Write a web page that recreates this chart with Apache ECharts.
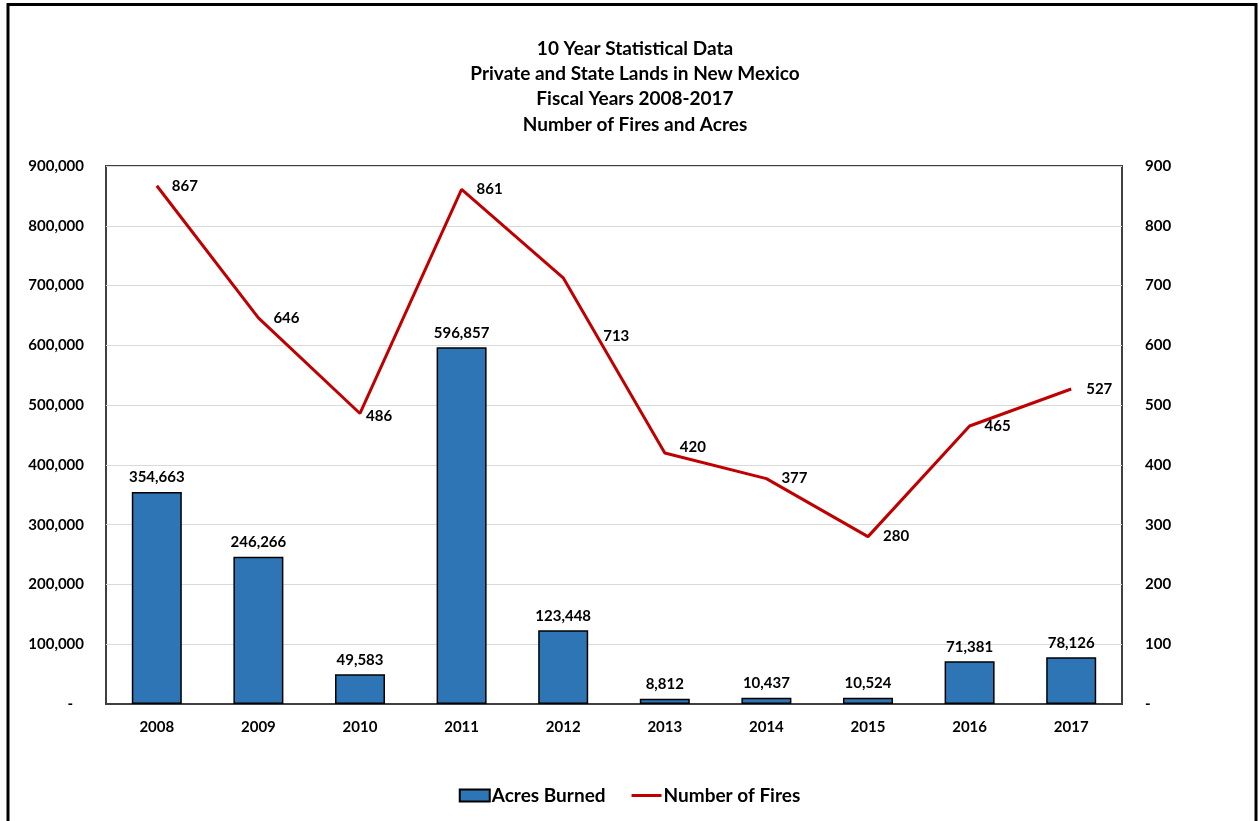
<!DOCTYPE html>
<html>
	<head>
		<meta charset="utf-8">
		<title>10 Year Statistical Data</title>
		<script src="https://cdn.jsdelivr.net/npm/echarts@6/dist/echarts.min.js"></script>
		<style>
			html, body { margin: 0; padding: 0; background: #fff; }
			#chart { width: 1259px; height: 821px; }
		</style>
	</head>
	<body>
		<div id="chart"></div>
		<script>
			// 数据
			var years = ['2008', '2009', '2010', '2011', '2012', '2013', '2014', '2015', '2016', '2017'];
			var acresBurned = [354663, 246266, 49583, 596857, 123448, 8812, 10437, 10524, 71381, 78126];
			var numberOfFires = [867, 646, 486, 861, 713, 420, 377, 280, 465, 527];
			var titleLines = ['10 Year Statistical Data', 'Private and State Lands in New Mexico', 'Fiscal Years 2008-2017', 'Number of Fires and Acres'];

			var font = 'Lato, "Open Sans", sans-serif';

			// 个别标签位置微调
			var fireLabelOffset = { 2: [-9, 3], 4: [25, 58], 5: [0, -6] };

			function fmt(v) {
				return v.toLocaleString('en-US');
			}

			var fireData = numberOfFires.map(function(v, i) {
				var item = { value: v };
				if (fireLabelOffset[i]) {
					item.label = { offset: fireLabelOffset[i] };
				}
				return item;
			});

			var chart = echarts.init(document.getElementById('chart'));

			var option = {
				animation: false,
				textStyle: { fontFamily: font },
				title: {
					text: titleLines.join('\n'),
					left: 630,
					top: 31,
					textAlign: 'center',
					textStyle: {
						fontFamily: font,
						fontSize: 19,
						fontWeight: 'bold',
						color: '#000',
						lineHeight: 25.3
					}
				},
				graphic: [{
					type: 'rect',
					shape: { x: 8, y: 4.5, width: 1248, height: 900 },
					style: { fill: 'none', stroke: '#000', lineWidth: 3 },
					silent: true
				}],
				legend: {
					bottom: 11,
					left: 'center',
					itemWidth: 30,
					itemHeight: 12,
					itemGap: 26,
					textStyle: { fontFamily: font, fontSize: 19, fontWeight: 'bold', color: '#000', padding: [0, 0, 0, -3] },
					data: [
						{ name: 'Acres Burned', icon: 'rect' },
						{ name: 'Number of Fires', icon: 'path://M0,0H30V3H0Z', itemStyle: { color: '#C00000' } }
					]
				},
				grid: {
					left: 106,
					right: 137,
					top: 166,
					bottom: 117,
					show: true,
					borderColor: '#404040',
					borderWidth: 2
				},
				xAxis: [{
					type: 'category',
					data: years,
					axisTick: { show: false },
					axisLine: { lineStyle: { color: '#404040', width: 2 } },
					axisLabel: { color: '#000', fontSize: 15, fontWeight: 'bold', margin: 16 }
				}],
				yAxis: [{
					type: 'value',
					min: 0,
					max: 900000,
					interval: 100000,
					axisLine: { show: false },
					axisTick: { show: false },
					splitLine: { lineStyle: { color: '#D9D9D9', width: 1 } },
					axisLabel: {
						color: '#000',
						fontSize: 15,
						fontWeight: 'bold',
						margin: 22,
						formatter: function(v) { return v === 0 ? '-   ' : fmt(v); }
					}
				}, {
					type: 'value',
					min: 0,
					max: 900,
					interval: 100,
					axisLine: { show: false },
					axisTick: { show: false },
					splitLine: { show: false },
					axisLabel: {
						color: '#000',
						fontSize: 15,
						fontWeight: 'bold',
						margin: 23,
						formatter: function(v) { return v === 0 ? '-' : fmt(v); }
					}
				}],
				series: [{
					name: 'Acres Burned',
					type: 'bar',
					data: acresBurned,
					barWidth: 50,
					itemStyle: { color: '#2E75B6', borderColor: '#000', borderWidth: 1.5 },
					label: {
						show: true,
						position: 'top',
						distance: 7,
						color: '#000',
						fontSize: 15,
						fontWeight: 'bold',
						formatter: function(p) { return fmt(p.value); }
					}
				}, {
					name: 'Number of Fires',
					type: 'line',
					yAxisIndex: 1,
					data: fireData,
					symbol: 'circle',
					symbolSize: 0,
					showSymbol: true,
					lineStyle: { color: '#C00000', width: 3 },
					itemStyle: { color: '#C00000' },
					label: {
						show: true,
						position: 'right',
						distance: 15,
						color: '#000',
						fontSize: 15,
						fontWeight: 'bold'
					}
				}]
			};
			chart.setOption(option);
		</script>
	</body>
</html>
